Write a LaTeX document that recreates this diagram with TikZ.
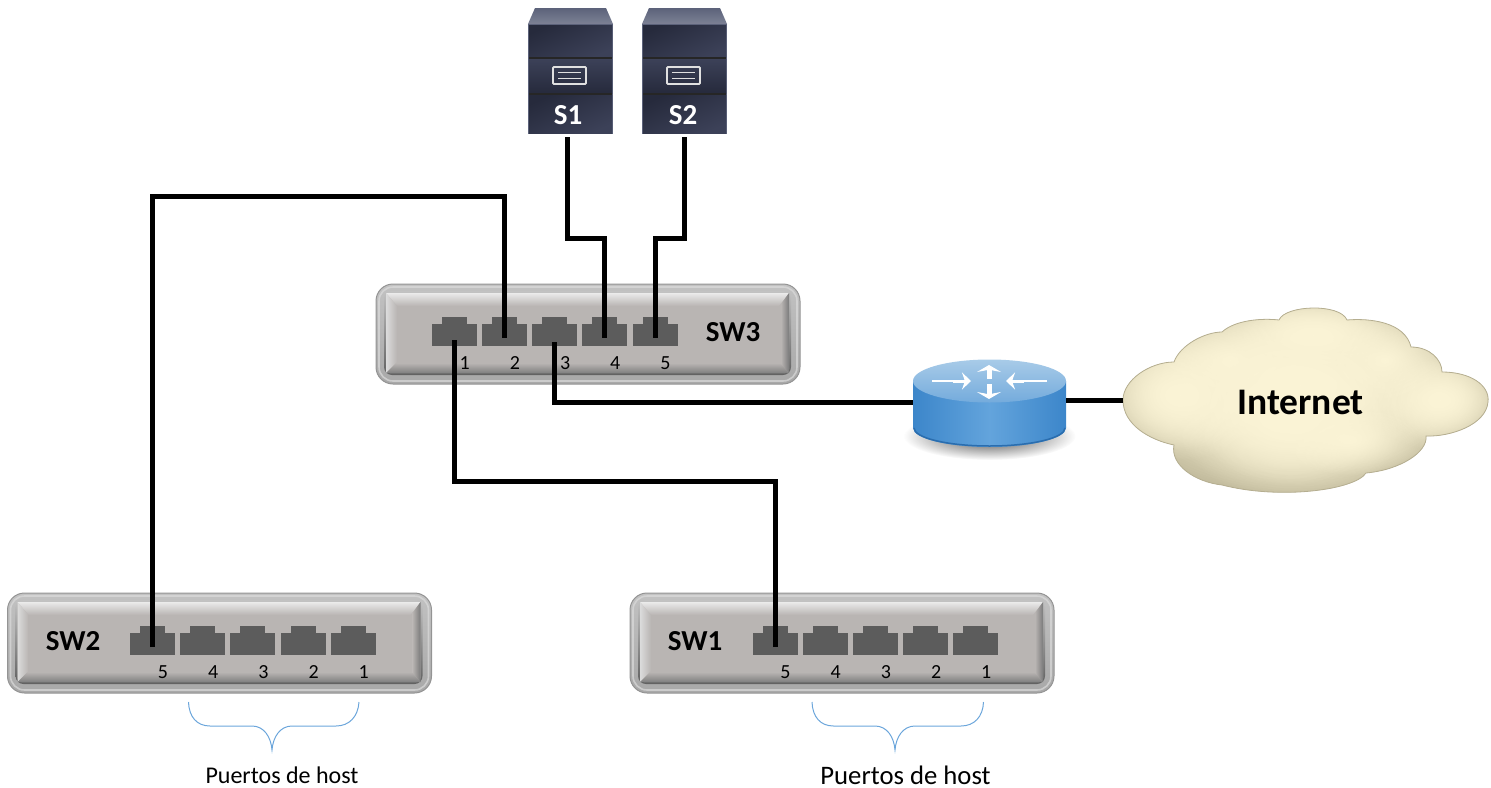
\documentclass[tikz,border=0pt]{standalone}
\usepackage{fontspec}
\setmainfont{Carlito}
\usetikzlibrary{fadings,arrows.meta}
\definecolor{portgray}{HTML}{5C5C5C}
\definecolor{faceg}{HTML}{B9B5B3}
\definecolor{bracec}{HTML}{6CA6DB}
\definecolor{srvdark}{HTML}{262A3C}
\definecolor{srvmid}{HTML}{3C4158}
\definecolor{srvtop}{HTML}{5C627A}
\definecolor{cloudl}{HTML}{FBF4D6}
\definecolor{cloudd}{HTML}{B5AE90}
\definecolor{rttop}{HTML}{A8CBE8}
\definecolor{rttopb}{HTML}{74ABDC}
\definecolor{rtside}{HTML}{3C86CA}
\definecolor{rtsidel}{HTML}{63A4DC}
\definecolor{rtedge}{HTML}{2A6DAE}
\tikzfading[name=softc,inner color=transparent!0,outer color=transparent!100]
\newcommand{\fsz}[1]{\fontsize{#1}{#1}\selectfont}
\newcommand{\cloudpath}{(1123,400)
 .. controls (1123,380) and (1150,362) .. (1174,362)
 .. controls (1180,345) and (1205,332) .. (1222,332)
 .. controls (1235,320) and (1262,318) .. (1279,320)
 .. controls (1285,305) and (1340,303) .. (1347,320)
 .. controls (1370,318) and (1405,322) .. (1411,347)
 .. controls (1430,347) and (1442,360) .. (1442,372)
 .. controls (1470,372) and (1490,385) .. (1488,402)
 .. controls (1486,425) and (1450,437) .. (1426,436)
 .. controls (1428,452) and (1400,470) .. (1366,473)
 .. controls (1355,490) and (1280,500) .. (1222,485)
 .. controls (1195,482) and (1170,465) .. (1174,445)
 .. controls (1150,440) and (1123,425) .. (1123,400) -- cycle}
\tikzset{
 x=1pt,y=-1pt,
 portbody/.style={fill=portgray,inner sep=0,minimum width=45pt,minimum height=22pt},
 porttab/.style={fill=portgray,inner sep=0,minimum width=25pt,minimum height=7pt,anchor=south},
 portnum/.style={font=\fsz{20},text=black,inner sep=0},
 swlabel/.style={font=\bfseries\fsz{29},text=black,inner sep=0},
 srvbody/.style={inner sep=0,minimum width=85pt,minimum height=110pt},
 srvlabel/.style={font=\bfseries\fsz{29},text=white,inner sep=0},
 wire/.style={draw=black,line width=5pt,line join=miter},
 bracel/.style={draw=bracec,line width=1pt},
 softblob/.style={fill=cloudl,path fading=softc},
 switchpic/.pic={
  \shade[rounded corners=17pt,top color=black!24,bottom color=black!34,draw=black!42,line width=1pt] (0,0) rectangle (424,100);
  \draw[rounded corners=14pt,black!14,line width=1.6pt,opacity=.7] (3,3) rectangle (421,97);
  \shade[rounded corners=8pt,top color=black!24,bottom color=black!62] (8,7) rectangle (415,91);
  \fill[faceg,rounded corners=4pt] (10,9) rectangle (413,89);
  \shade[top color=black!8,bottom color=faceg] (10,9) -- (413,9) -- (403,22) -- (21,22) -- cycle;
  \shade[left color=black!14,right color=faceg] (10,9) -- (21,22) -- (21,78) -- (10,89) -- cycle;
  \shade[left color=faceg,right color=black!52] (413,9) -- (405,20) -- (405,80) -- (413,89) -- cycle;
  \shade[top color=faceg,bottom color=black!50] (10,89) -- (20,79) -- (404,79) -- (413,89) -- cycle;
 },
 serverpic/.pic={
  \shade[top color=srvtop,bottom color=srvtop!80!white] (7,0) -- (78,0) -- (85,16) -- (0,16) -- cycle;
  \fill[srvtop] (0,16) rectangle (85,126);
  \shade[top color=srvdark,bottom color=srvmid,shading angle=25] (1,17) rectangle (84,49);
  \fill[black!85] (1,49) rectangle (84,51);
  \shade[top color=srvmid,bottom color=srvdark] (1,51) rectangle (84,85);
  \fill[black!85] (1,85) rectangle (84,87);
  \shade[top color=srvdark,bottom color=srvmid,shading angle=25] (1,87) rectangle (84,125);
  \draw[black!12,line width=1.8pt,rounded corners=1pt] (25,59) rectangle (58,76);
  \draw[black!12,line width=1.4pt] (30,64.5) -- (53,64.5) (30,70.5) -- (53,70.5);
 }
}
\begin{document}
\begin{tikzpicture}
\useasboundingbox (0,0) rectangle (1491,787);
% switches
\pic at (376,284) {switchpic};
\pic at (7.5,593) {switchpic};
\pic at (630,593) {switchpic};
\foreach \n/\xx in {1/454.2,2/504.4,3/554.6,4/604.8,5/655}{
 \node[portbody] (sw3p\n) at (\xx,335) {};
 \node[porttab] (sw3t\n) at (sw3p\n.north) {};
 \node[portnum] (sw3n\n) at (\xx+10.5,363) {\n};
}
\foreach \n/\xx in {5/152.5,4/202.7,3/252.9,2/303.1,1/353.3}{
 \node[portbody] (sw2p\n) at (\xx,644) {};
 \node[porttab] (sw2t\n) at (sw2p\n.north) {};
 \node[portnum] (sw2n\n) at (\xx+10.5,672) {\n};
}
\foreach \n/\xx in {5/775,4/825.2,3/875.4,2/925.6,1/975.8}{
 \node[portbody] (sw1p\n) at (\xx,644) {};
 \node[porttab] (sw1t\n) at (sw1p\n.north) {};
 \node[portnum] (sw1n\n) at (\xx+10.5,672) {\n};
}
\node[swlabel] (sw3) at (733,332) {SW3};
\node[swlabel] (sw2) at (73,641) {SW2};
\node[swlabel] (sw1) at (695,641) {SW1};
% servers
\pic at (528,8) {serverpic};
\pic at (642,8) {serverpic};
\node[srvbody] (s1) at (570.5,79) {};
\node[srvbody] (s2) at (685,79) {};
\node[srvlabel] (s1l) at (568,115) {S1};
\node[srvlabel] (s2l) at (683,115) {S2};
% cloud
\node[inner sep=0,minimum width=366pt,minimum height=186pt] (cloud) at (1306,400) {};
\begin{scope}
 \clip \cloudpath;
 \fill[cloudd] (1110,300) rectangle (1491,500);
 \foreach \ax/\ay/\rx/\ry in {1300/385/230/130,1300/385/200/115,1180/395/90/65,1180/395/75/55,1440/400/75/50,1440/400/60/42,1313/335/90/38,1313/335/75/32,1230/360/70/42,1385/360/60/42,1290/410/120/90,1290/410/100/75,1350/440/70/35}{
  \fill[softblob] (\ax,\ay) ellipse [x radius=\rx,y radius=\ry];
 }
\end{scope}
\draw[cloudd,line width=0.8pt] \cloudpath;
\node[font=\bfseries\fsz{37.5},text=black,inner sep=0] (inet) at (1300.5,402) {Internet};
% router
\fill[black!75,path fading=softc] (989.5,436) ellipse [x radius=86,y radius=24];
\shade[left color=rtside,right color=rtside,middle color=rtsidel] (913,381) -- (913,428) arc [start angle=180,end angle=0,x radius=76.5,y radius=19] -- (1066,381) -- cycle;
\draw[rtedge,line width=1.5pt] (914,428) arc [start angle=180,end angle=0,x radius=75.5,y radius=18];
\node[inner sep=0,minimum width=153pt,minimum height=88pt] (rt) at (989.5,402) {};
\shade[top color=rttop,bottom color=rttopb] (989.5,381) ellipse [x radius=76.5,y radius=21.5];
\draw[white,line width=1.5pt] (932,381) -- (960,381) (1047,381) -- (1017,381);
\draw[white,line width=3pt,-{Stealth[length=9pt,width=17pt]}] (953,381) -- (971,381);
\draw[white,line width=3pt,-{Stealth[length=9pt,width=17pt]}] (1024,381) -- (1006,381);
\draw[white,line width=5pt,-{Stealth[length=7pt,width=24pt]}] (989,379) -- (989,365);
\draw[white,line width=5pt,-{Stealth[length=7pt,width=24pt]}] (989,384) -- (989,399);
% connectors
\coordinate (s1out) at ([xshift=-3.5pt,yshift=-3pt]s1.south);
\coordinate (s2out) at ([xshift=-1pt,yshift=-3pt]s2.south);
\coordinate (lvl1) at (0,238);
\coordinate (lvl2) at (0,196);
\coordinate (lvl3) at (0,481);
\draw[wire] (s1out) |- (sw3p4.center |- lvl1) -- ([yshift=-3pt]sw3p4.center);
\draw[wire] (s2out) |- (sw3p5.center |- lvl1) -- ([yshift=-3pt]sw3p5.center);
\draw[wire] ([yshift=-3pt]sw2p5.center) |- (sw3p2.center |- lvl2) -- ([yshift=-3pt]sw3p2.center);
\draw[wire] ([yshift=-3pt]sw1p5.center) |- (sw3p1.center |- lvl3) -- ([yshift=-5pt]sw3p1.center);
\draw[wire] ([yshift=-7pt]sw3p3.center) |- (rt.west);
\draw[wire] (rt.east |- cloud.west) -- (cloud.west);
% braces
\draw[bracel] (188.5,702) .. controls (189,717) and (197,726) .. (210,726) -- (252,726) .. controls (264,726) and (271,737) .. (272,750) .. controls (273,737) and (280,726) .. (292,726) -- (336,726) .. controls (349,726) and (358,717) .. (359,702);
\draw[bracel] (812,702) .. controls (812.5,717) and (820.5,726) .. (833.5,726) -- (875,726) .. controls (887,726) and (894,737) .. (895,750) .. controls (896,737) and (903,726) .. (915,726) -- (961,726) .. controls (974,726) and (983,717) .. (983.5,702);
\node[font=\fsz{24},text=black,inner sep=0,anchor=base] (h2) at (282,783) {Puertos de host};
\node[font=\fsz{26.7},text=black,inner sep=0,anchor=base] (h1) at (905.5,784) {Puertos de host};
\end{tikzpicture}
\end{document}
